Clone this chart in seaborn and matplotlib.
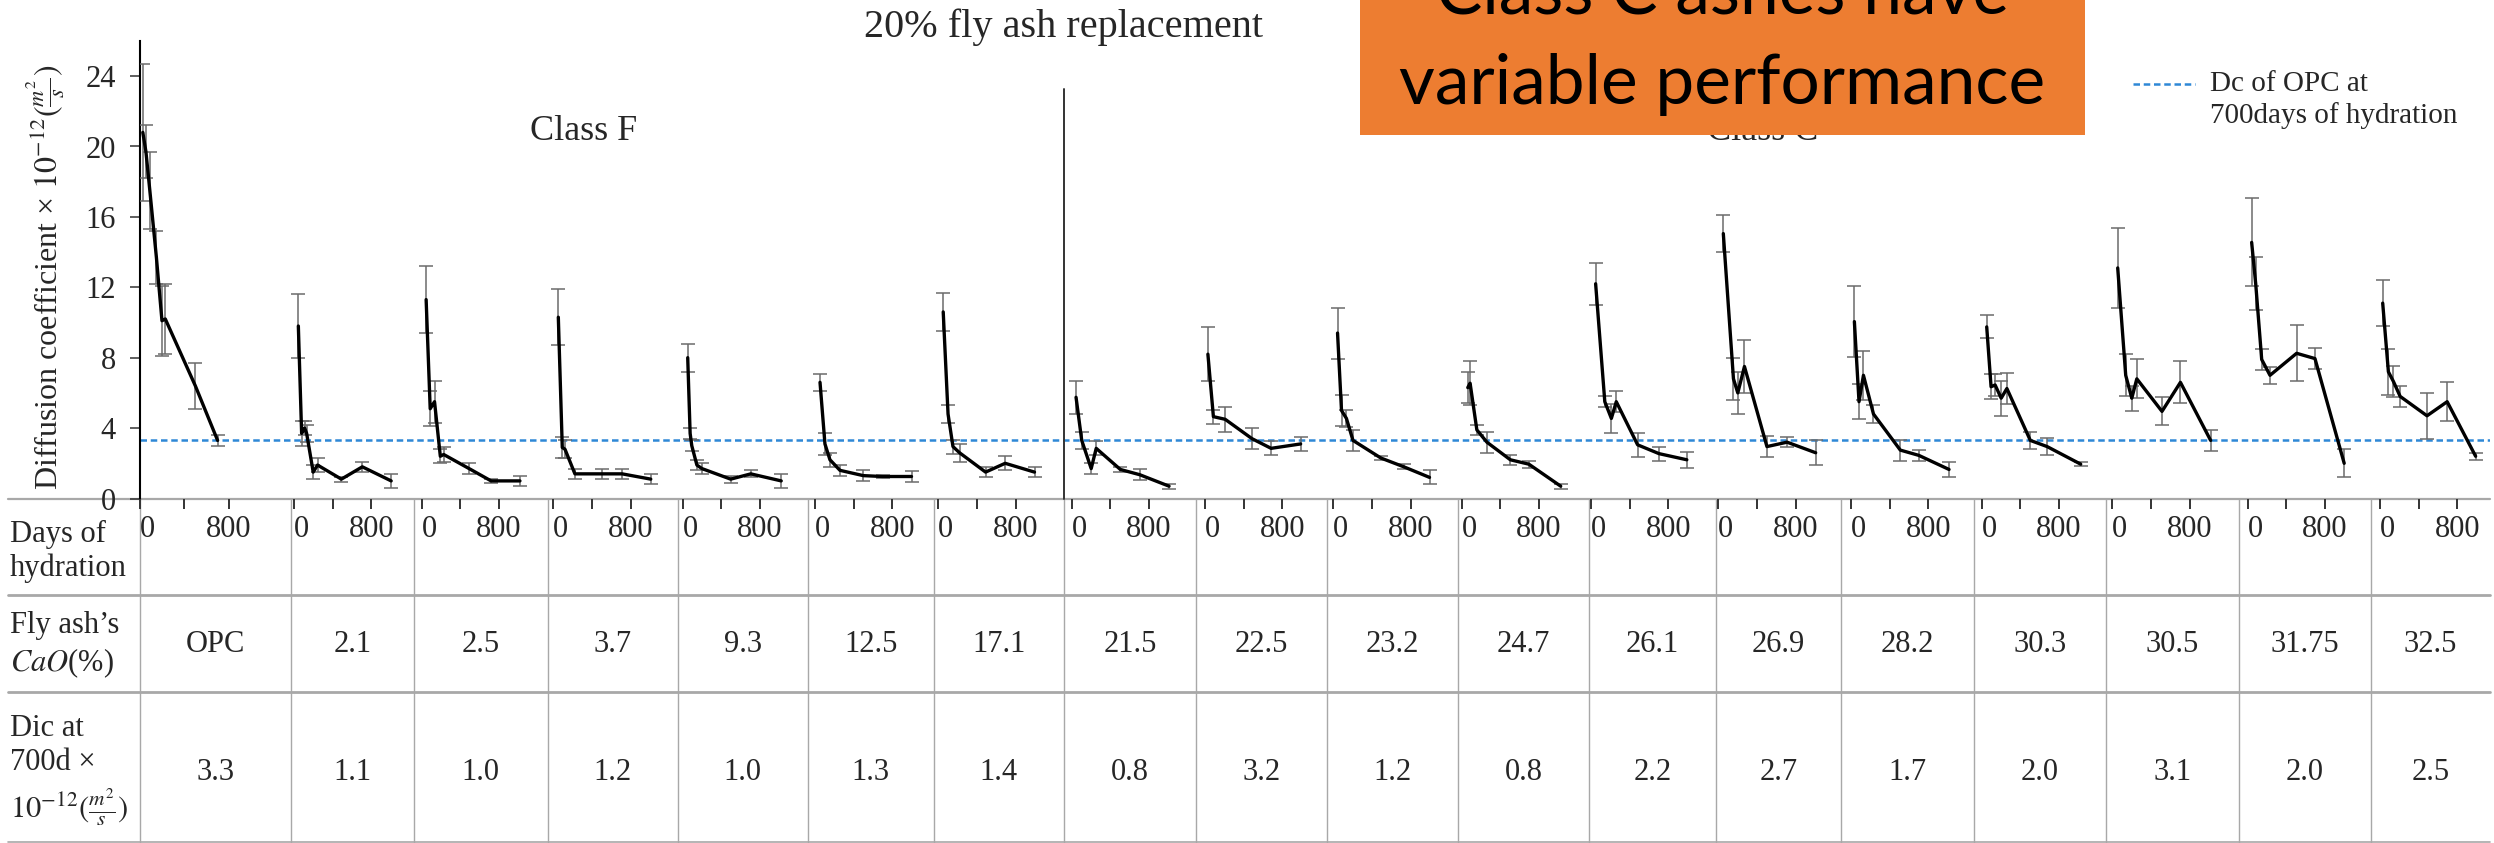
import numpy as np
import pandas as pd
import matplotlib
matplotlib.use("Agg")
import matplotlib.pyplot as plt
import seaborn as sns
from matplotlib.lines import Line2D
from matplotlib.patches import Rectangle

# ---------------- data ----------------
cao_labels = ['OPC', '2.1', '2.5', '3.7', '9.3', '12.5', '17.1', '21.5', '22.5', '23.2',
              '24.7', '26.1', '26.9', '28.2', '30.3', '30.5', '31.75', '32.5']
dic_700 = ['3.3', '1.1', '1.0', '1.2', '1.0', '1.3', '1.4', '0.8', '3.2', '1.2',
           '0.8', '2.2', '2.7', '1.7', '2.0', '3.1', '2.0', '2.5']
opc_700 = 3.3

days = [
    [28, 56, 91, 150, 200, 230, 500, 700],
    [45, 79, 110, 131, 199, 244, 491, 708, 1007],
    [46, 88, 133, 193, 228, 491, 719, 1018],
    [52, 93, 121, 224, 500, 714, 1010],
    [52, 77, 94, 147, 199, 497, 706, 1021],
    [52, 103, 155, 259, 500, 700, 1000],
    [51, 101, 152, 220, 490, 693, 997],
    [45, 104, 202, 254, 504, 706, 1009],
    [30, 87, 209, 487, 685, 991],
    [44, 85, 136, 204, 493, 731, 997],
    [63, 87, 157, 261, 504, 696, 1026],
    [48, 143, 211, 262, 483, 704, 993],
    [52, 157, 202, 271, 504, 713, 1009],
    [35, 83, 129, 233, 511, 703, 1016],
    [52, 97, 139, 202, 261, 504, 678, 1026],
    [56, 139, 202, 254, 515, 706, 1019],
    [41, 83, 145, 231, 507, 697, 1000],
    [28, 87, 139, 209, 487, 696, 991],
]
dc = [
    [20.8, 19.7, 17.5, 13.7, 10.1, 10.2, 6.4, 3.3],
    [9.8, 3.7, 4.0, 3.7, 1.5, 1.9, 1.1, 1.8, 1.0],
    [11.3, 5.1, 5.5, 2.4, 2.5, 1.7, 1.0, 1.0],
    [10.3, 2.9, 2.8, 1.4, 1.4, 1.4, 1.1],
    [8.0, 3.7, 3.0, 1.9, 1.7, 1.1, 1.4, 1.0],
    [6.6, 3.1, 2.2, 1.6, 1.3, 1.25, 1.25],
    [10.6, 4.8, 2.95, 2.6, 1.5, 2.0, 1.5],
    [5.75, 3.3, 1.7, 2.85, 1.65, 1.35, 0.7],
    [8.2, 4.65, 4.5, 3.4, 2.85, 3.1],
    [9.4, 5.0, 4.55, 3.3, 2.3, 1.8, 1.2],
    [6.3, 6.55, 3.9, 3.2, 2.2, 1.95, 0.7],
    [12.2, 5.5, 4.55, 5.5, 3.05, 2.55, 2.2],
    [15.05, 6.8, 6.0, 7.5, 2.95, 3.2, 2.6],
    [10.05, 5.5, 7.0, 4.8, 2.75, 2.45, 1.65],
    [9.75, 6.35, 6.45, 5.7, 6.25, 3.3, 2.95, 1.95],
    [13.1, 7.0, 5.7, 6.8, 4.95, 6.6, 3.3],
    [14.55, 12.2, 7.9, 7.0, 8.25, 7.95, 2.0],
    [11.1, 7.2, 6.65, 5.8, 4.7, 5.5, 2.4],
]
err = [
    [3.9, 1.5, 2.2, 1.5, 2.0, 2.0, 1.3, 0.3],
    [1.8, 0.7, 0.4, 0.5, 0.4, 0.4, 0.15, 0.3, 0.4],
    [1.9, 1.0, 1.2, 0.4, 0.4, 0.3, 0.1, 0.3],
    [1.6, 0.6, 0.5, 0.3, 0.3, 0.3, 0.3],
    [0.8, 0.3, 0.3, 0.3, 0.3, 0.2, 0.2, 0.4],
    [0.5, 0.6, 0.4, 0.3, 0.3, 0.1, 0.3],
    [1.1, 0.5, 0.4, 0.5, 0.3, 0.4, 0.3],
    [0.95, 0.5, 0.3, 0.4, 0.15, 0.3, 0.15],
    [1.55, 0.4, 0.7, 0.6, 0.4, 0.4],
    [1.45, 0.9, 0.5, 0.6, 0.1, 0.15, 0.4],
    [0.9, 1.25, 0.3, 0.6, 0.3, 0.2, 0.15],
    [1.2, 0.3, 0.8, 0.6, 0.7, 0.4, 0.45],
    [1.05, 1.2, 1.2, 1.5, 0.6, 0.3, 0.7],
    [2.0, 1.0, 1.4, 0.5, 0.6, 0.3, 0.4],
    [0.65, 0.7, 0.6, 1.0, 0.9, 0.5, 0.5, 0.1],
    [2.25, 1.2, 0.7, 1.1, 0.8, 1.2, 0.6],
    [2.5, 1.5, 0.6, 0.5, 1.6, 0.6, 0.8],
    [1.3, 1.3, 0.9, 0.6, 1.3, 1.1, 0.2],
]

rows = []
for p in range(len(cao_labels)):
    for d, v, e in zip(days[p], dc[p], err[p]):
        rows.append({'panel': p, 'day': d, 'dc': v, 'err': e})
df = pd.DataFrame(rows)

# ---------------- layout (pixels) ----------------
W, H = 2494, 843
edges = [139.7, 291, 414, 547.5, 677.6, 808, 933.6, 1064, 1196, 1326.5, 1458,
         1589, 1716, 1841, 1974, 2106, 2239, 2371, 2490]
zero_px = [0, 3, 7.7, 5.8, 5.1, 7, 4.7, 7.7, 9, 6.8, 3.7, 2, 2.3, 10, 7.7, 6.3, 8.7, 9]
px_per_day = [0.1113] + [0.0965] * 17
y_axis_px = 498.5
y_top_px = 40.9
YMAX = 26

sns.set_theme(style='white')
plt.rcParams['font.family'] = ['Liberation Serif', 'DejaVu Serif']
plt.rcParams['mathtext.fontset'] = 'stix'

fig = plt.figure(figsize=(W / 100, H / 100), dpi=100)
fig.patch.set_facecolor('white')


def fxp(x):
    return x / W


def fyp(y):
    return 1 - y / H


ax_h = (y_axis_px - y_top_px) / H
TICK_FS = 22
TAB_FS = 22

# main axis with y-scale
ax0 = fig.add_axes([fxp(edges[0]), fyp(y_axis_px), fxp(edges[-1]) - fxp(edges[0]), ax_h])
ax0.set_ylim(0, YMAX)
ax0.set_xlim(0, 1)
ax0.patch.set_alpha(0)
for s in ['top', 'right', 'bottom']:
    ax0.spines[s].set_visible(False)
ax0.spines['left'].set_color('black')
ax0.spines['left'].set_linewidth(1.5)
ax0.set_xticks([])
ax0.set_yticks(np.arange(0, 25, 4))
ax0.tick_params(axis='y', direction='out', length=7, width=1.1, color='#333333',
                labelsize=TICK_FS, pad=10, left=True)
ax0.axhline(opc_700, color='#2E88D6', lw=1.8, ls=(0, (2.6, 1.5)), zorder=1)

# panels
for p in range(len(cao_labels)):
    L, R = edges[p], edges[p + 1]
    ax = fig.add_axes([fxp(L), fyp(y_axis_px), (R - L) / W, ax_h])
    ax.patch.set_alpha(0)
    ppd = px_per_day[p]
    ax.set_xlim(-zero_px[p] / ppd, (R - L - zero_px[p]) / ppd)
    ax.set_ylim(0, YMAX)
    sub = df[df.panel == p]
    ax.errorbar(sub['day'], sub['dc'], yerr=sub['err'], fmt='none', ecolor='#6b6b6b',
                elinewidth=1.1, capsize=5, capthick=1.1, zorder=2)
    sns.lineplot(data=sub, x='day', y='dc', ax=ax, color='black', lw=2.4,
                 estimator=None, sort=False, legend=False, zorder=3)
    ax.set_xlabel('')
    ax.set_ylabel('')
    for s in ax.spines.values():
        s.set_visible(False)
    ax.set_yticks([])
    ax.set_xticks([0, 400, 800])
    ax.set_xticklabels(['0', '', '800'])
    ax.tick_params(axis='x', direction='out', length=7, width=1.4, color='#333333',
                   labelsize=TICK_FS, pad=5, bottom=True)
    ax.get_xticklabels()[0].set_horizontalalignment('left')

# y label
fig.text(fxp(46), fyp(277), 'Diffusion coefficient × $10^{-12}(\\frac{m^2}{s})$',
         rotation=90, ha='center', va='center', fontsize=23)

# titles
fig.text(fxp(1063), fyp(27), '20% fly ash replacement', ha='center', va='center', fontsize=29)
fig.text(fxp(584), fyp(140), 'Class F', ha='center', va='baseline', fontsize=26)
fig.text(fxp(1763), fyp(140), 'Class C', ha='center', va='baseline', fontsize=26, zorder=1)

# class divider
fig.add_artist(Line2D([fxp(1063.6)] * 2, [fyp(89), fyp(y_axis_px)], color='#333333', lw=1.4))

# legend
fig.add_artist(Line2D([fxp(2133), fxp(2195)], [fyp(84)] * 2, color='#2E88D6', lw=1.8,
                      ls=(0, (2.6, 1.5))))
fig.text(fxp(2210), fyp(84), 'Dc of OPC at', ha='left', va='center', fontsize=21)
fig.text(fxp(2210), fyp(116), '700days of hydration', ha='left', va='center', fontsize=21)

# orange callout
fig.add_artist(Rectangle((fxp(1360), fyp(135)), fxp(2085) - fxp(1360), 135 / H,
                         facecolor='#ED7D31', edgecolor='none', zorder=5))
fig.text(fxp(1722), fyp(14), 'Class C ashes have', ha='center', va='baseline',
         fontsize=50, family='Lato', color='black', zorder=6)
fig.text(fxp(1722), fyp(104), 'variable performance', ha='center', va='baseline',
         fontsize=50, family='Lato', color='black', zorder=6)

# table grid
grid_c = '#A8A8A8'
for yy, lw in [(y_axis_px, 1.6), (595, 2.0), (692, 2.0), (841.5, 1.2)]:
    fig.add_artist(Line2D([fxp(8), fxp(2490)], [fyp(yy)] * 2, color=grid_c, lw=lw, zorder=0))
for xx in edges[:-1]:
    fig.add_artist(Line2D([fxp(xx)] * 2, [fyp(y_axis_px), fyp(843)], color=grid_c, lw=1.0, zorder=0))

# row labels
fig.text(fxp(10), fyp(534), 'Days of', ha='left', va='center', fontsize=TAB_FS)
fig.text(fxp(10), fyp(568), 'hydration', ha='left', va='center', fontsize=TAB_FS)
fig.text(fxp(10), fyp(625), 'Fly ash’s', ha='left', va='center', fontsize=TAB_FS)
fig.text(fxp(10), fyp(663), '$CaO$(%)', ha='left', va='center', fontsize=TAB_FS)
fig.text(fxp(10), fyp(728), 'Dic at', ha='left', va='center', fontsize=TAB_FS)
fig.text(fxp(10), fyp(762), '700d ×', ha='left', va='center', fontsize=TAB_FS)
fig.text(fxp(10), fyp(807), '$10^{-12}(\\frac{m^2}{s})$', ha='left', va='center', fontsize=TAB_FS)

# cell values
for p in range(len(cao_labels)):
    cx = (edges[p] + edges[p + 1]) / 2
    fig.text(fxp(cx), fyp(644), cao_labels[p], ha='center', va='center', fontsize=TAB_FS)
    fig.text(fxp(cx), fyp(772), dic_700[p], ha='center', va='center', fontsize=TAB_FS)

fig.savefig('out.png', dpi=100, facecolor='white')
